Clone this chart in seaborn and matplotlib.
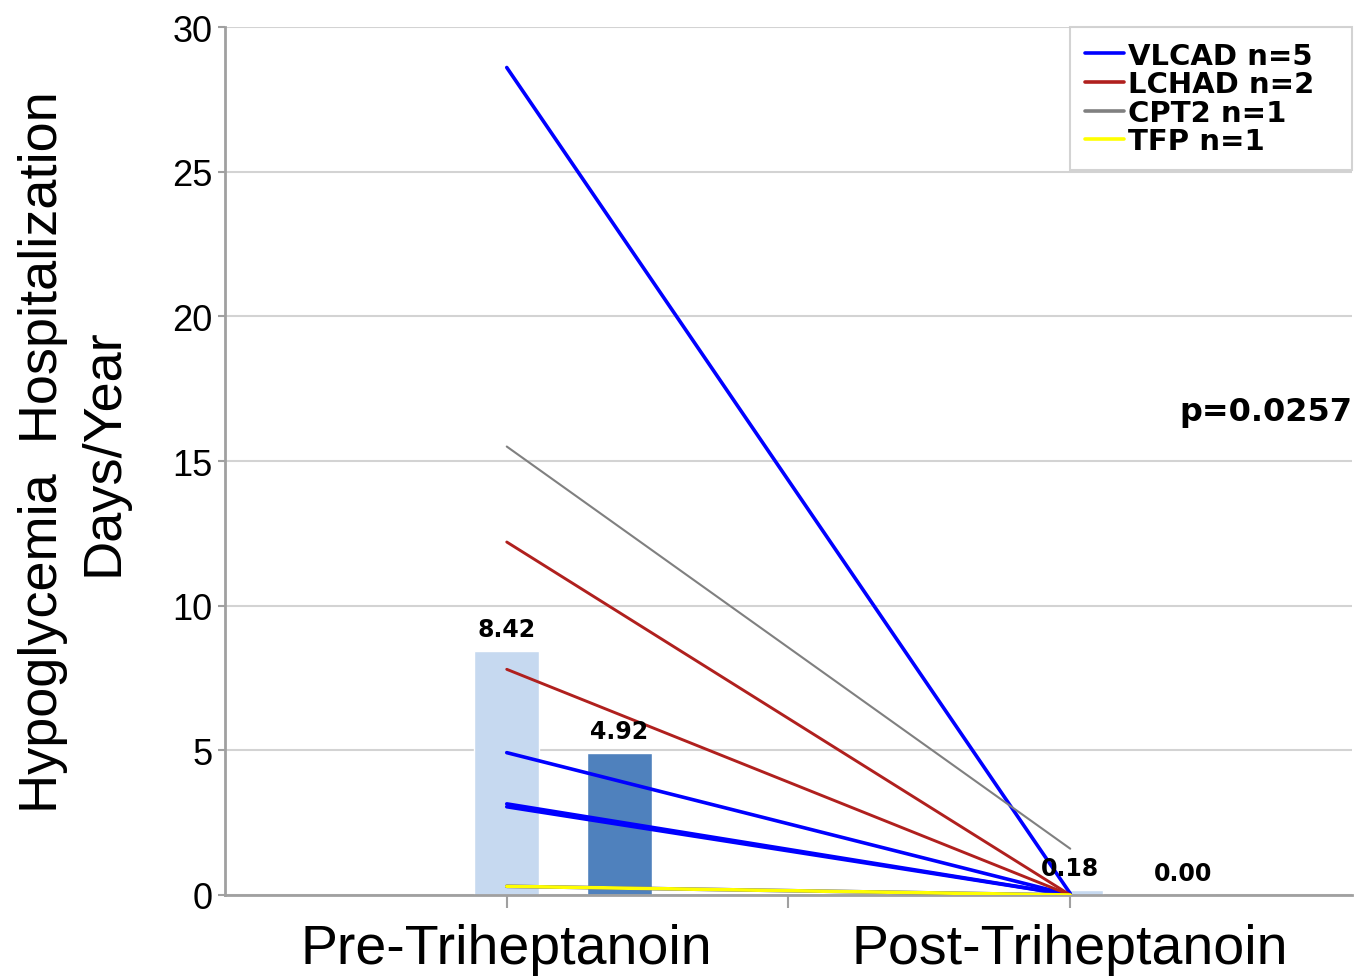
import matplotlib
matplotlib.use("Agg")
import matplotlib.pyplot as plt
import seaborn as sns
import pandas as pd
import numpy as np
from matplotlib.lines import Line2D

# ---- data ----
categories = ["Pre-Triheptanoin", "Post-Triheptanoin"]
mean_values = [8.42, 0.18]
median_values = [4.92, 0.00]

groups = ["VLCAD n=5", "LCHAD n=2", "CPT2 n=1", "TFP n=1"]
vlcad_pre = [28.6, 4.92, 3.15, 3.05, 0.3]
vlcad_post = [0.05, 0.0, 0.0, 0.0, 0.0]
lchad_pre = [12.2, 7.8]
lchad_post = [0.0, 0.0]
cpt2_pre = [15.5]
cpt2_post = [1.6]
tfp_pre = [0.3]
tfp_post = [0.0]
p_text = "p=0.0257"

group_colors = {"VLCAD n=5": "#0000FF", "LCHAD n=2": "#B0201E",
                "CPT2 n=1": "#808080", "TFP n=1": "#FFFF00"}
group_widths = {"VLCAD n=5": 2.6, "LCHAD n=2": 2.1,
                "CPT2 n=1": 1.5, "TFP n=1": 2.6}

rows = []
for g, pre, post in [("VLCAD n=5", vlcad_pre, vlcad_post),
                     ("LCHAD n=2", lchad_pre, lchad_post),
                     ("CPT2 n=1", cpt2_pre, cpt2_post),
                     ("TFP n=1", tfp_pre, tfp_post)]:
    for i, (a, b) in enumerate(zip(pre, post)):
        rows.append(dict(group=g, pid=f"{g}-{i}", x=0, y=a))
        rows.append(dict(group=g, pid=f"{g}-{i}", x=1, y=b))
df = pd.DataFrame(rows)

sns.set_theme(style="white")
plt.rcParams['font.family'] = ['Liberation Sans', 'DejaVu Sans']
plt.rcParams['text.color'] = 'black'

fig = plt.figure(figsize=(13.71, 9.79), dpi=100)
ax = fig.add_axes([225/1371, 83/979, (1352-225)/1371, (896-28)/979])

# bars
xpos = np.arange(len(categories))
offset = 0.2
bw = 0.116
light = "#C6D9F0"
dark = "#4F81BD"
ax.bar(xpos, mean_values, width=bw, color=light, zorder=2)
ax.bar(xpos + offset, median_values, width=bw, color=dark, zorder=2)
for xi, v in zip(xpos, mean_values):
    ax.text(xi, v + 0.35, f"{v:.2f}", ha="center", va="bottom",
            fontsize=17, fontweight="bold", family="DejaVu Sans", zorder=6)
for xi, v in zip(xpos, median_values):
    ax.text(xi + offset, v + 0.35, f"{v:.2f}", ha="center", va="bottom",
            fontsize=17, fontweight="bold", family="DejaVu Sans", zorder=6)

# lines
for g in groups:
    sub = df[df.group == g]
    sns.lineplot(data=sub, x="x", y="y", units="pid", estimator=None,
                 color=group_colors[g], linewidth=group_widths[g], ax=ax,
                 zorder=4, legend=False)

# legend
handles = [Line2D([0], [0], color=group_colors[g], lw=2.6) for g in groups]
x0 = (1070 - 225) / (1352 - 225)
leg = ax.legend(handles, groups, loc="upper left",
                bbox_to_anchor=(x0, 0.0, 1.0 - x0, 1.0), mode="expand",
                borderaxespad=0, frameon=True, fancybox=False,
                prop=dict(family="DejaVu Sans", weight="bold", size=21),
                handlelength=1.35, handletextpad=0.15, labelspacing=0.02,
                borderpad=0.5)
for t in leg.get_texts():
    t.set_color("black")
leg.get_frame().set_edgecolor("#C8C8C8")
leg.get_frame().set_linewidth(1.5)
leg.set_zorder(10)

ax.text(1.0, 16.7, p_text, transform=ax.get_yaxis_transform(), ha="right",
        va="center", fontsize=23, fontweight="bold", family="DejaVu Sans")

# axes styling
ax.set_xlim(-0.5, 1.5)
ax.set_ylim(0, 30)
ax.set_yticks(np.arange(0, 31, 5))
ax.set_xticks(xpos)
ax.set_xticklabels(categories, fontsize=40)
ax.set_xticks([0.5], minor=True)
ax.tick_params(axis="y", labelsize=26, length=5, width=1.5, color="#A0A0A0",
               labelcolor="black", left=True, pad=4)
ax.tick_params(axis="x", which="both", length=9, width=1.5, color="#A0A0A0",
               labelcolor="black", bottom=True, pad=11)
ax.yaxis.grid(True, color="#D3D3D3", linewidth=1.5, zorder=0)
ax.set_axisbelow(True)
for s in ["top", "right"]:
    ax.spines[s].set_visible(False)
for s in ["left", "bottom"]:
    ax.spines[s].set_color("#A0A0A0")
    ax.spines[s].set_linewidth(2)
ax.set_xlabel("")
ax.set_ylabel("")

fig.text(73/1371, 1 - 452/979, "Hypoglycemia  Hospitalization\nDays/Year",
         rotation=90, ha="center", va="center", multialignment="center",
         fontsize=39, linespacing=1.28, color="black")

fig.savefig("out.png", dpi=100)
